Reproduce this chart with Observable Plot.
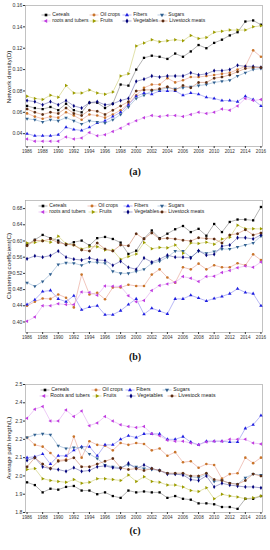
<!DOCTYPE html>
<html><head><meta charset="utf-8">
<script src="https://cdn.jsdelivr.net/npm/d3@7"></script>
<script src="https://cdn.jsdelivr.net/npm/@observablehq/plot@0.6"></script>
<style>
body{margin:0;background:#fff;width:270px;height:550px;overflow:hidden;font-family:"Liberation Sans",Arial,sans-serif}
#root{position:relative;width:270px;height:550px}
.panel{position:absolute;left:0;width:270px}
.panel svg{display:block}
.overlay{position:absolute;left:0;top:0;pointer-events:none}
.cap{position:absolute;left:0;width:270px;text-align:center;font-family:"Liberation Serif","Times New Roman",serif;font-weight:bold;font-size:10px;line-height:12px;color:#111}
</style></head><body><div id="root"></div>
<script>
const years=[1986,1987,1988,1989,1990,1991,1992,1993,1994,1995,1996,1997,1998,1999,2000,2001,2002,2003,2004,2005,2006,2007,2008,2009,2010,2011,2012,2013,2014,2015,2016];
const xTicks=[1986,1988,1990,1992,1994,1996,1998,2000,2002,2004,2006,2008,2010,2012,2014,2016];
const seriesNames=["Cereals","Oil crops","Fibers","Sugars","roots and tubers","Fruits","Vegetables","Livestock meats"];
const seriesNamesC=["Cereals","Oil crops","Fibers","Sugars","Roots and tubers","Fruits","Vegetables","Livestock meats"];

// (a) Network density
const aCereals=[0.066,0.064,0.063,0.065,0.062,0.068,0.062,0.060,0.069,0.069,0.064,0.068,0.086,0.085,0.100,0.111,0.113,0.112,0.110,0.115,0.112,0.117,0.123,0.120,0.125,0.128,0.132,0.135,0.145,0.146,0.142];
const aOil=[0.059,0.056,0.054,0.056,0.055,0.060,0.057,0.053,0.058,0.057,0.055,0.058,0.062,0.068,0.076,0.083,0.086,0.086,0.092,0.088,0.090,0.093,0.093,0.094,0.095,0.096,0.097,0.100,0.103,0.118,0.112];
const aFibers=[0.040,0.038,0.038,0.038,0.039,0.046,0.044,0.043,0.046,0.050,0.052,0.056,0.060,0.067,0.075,0.078,0.077,0.080,0.080,0.080,0.076,0.078,0.077,0.074,0.073,0.071,0.071,0.070,0.075,0.072,0.066];
const aSugars=[0.054,0.053,0.051,0.053,0.052,0.055,0.052,0.049,0.052,0.051,0.050,0.053,0.058,0.065,0.073,0.076,0.080,0.081,0.083,0.082,0.083,0.084,0.085,0.086,0.088,0.089,0.090,0.094,0.097,0.100,0.101];
const aRoots=[0.035,0.033,0.033,0.033,0.033,0.037,0.035,0.036,0.041,0.038,0.039,0.042,0.045,0.049,0.052,0.055,0.057,0.056,0.057,0.057,0.056,0.058,0.060,0.059,0.060,0.063,0.062,0.066,0.073,0.071,0.072];
const aFruits=[0.075,0.073,0.072,0.076,0.074,0.085,0.078,0.078,0.081,0.078,0.077,0.079,0.094,0.096,0.122,0.125,0.128,0.126,0.127,0.128,0.127,0.132,0.129,0.130,0.135,0.136,0.137,0.137,0.137,0.140,0.141];
const aVegetables=[0.071,0.070,0.067,0.070,0.067,0.071,0.066,0.064,0.069,0.070,0.067,0.068,0.071,0.073,0.089,0.091,0.094,0.093,0.094,0.094,0.094,0.097,0.095,0.096,0.099,0.099,0.100,0.104,0.103,0.103,0.102];
const aLivestock=[0.063,0.060,0.058,0.060,0.059,0.064,0.059,0.057,0.062,0.061,0.058,0.062,0.066,0.070,0.080,0.081,0.081,0.082,0.084,0.081,0.085,0.083,0.088,0.088,0.092,0.093,0.095,0.098,0.101,0.102,0.102];

// (b) Clustering coefficient
const bCereals=[0.591,0.603,0.615,0.607,0.601,0.590,0.597,0.601,0.589,0.607,0.610,0.605,0.596,0.568,0.576,0.606,0.626,0.607,0.618,0.629,0.637,0.622,0.630,0.613,0.642,0.622,0.647,0.653,0.653,0.651,0.684];
const bOil=[0.440,0.450,0.458,0.457,0.468,0.460,0.436,0.517,0.468,0.472,0.456,0.485,0.485,0.492,0.489,0.489,0.517,0.530,0.510,0.497,0.535,0.530,0.544,0.530,0.540,0.535,0.535,0.545,0.540,0.567,0.553];
const bFibers=[0.443,0.455,0.475,0.478,0.457,0.450,0.465,0.430,0.437,0.440,0.418,0.418,0.428,0.443,0.457,0.419,0.434,0.427,0.420,0.457,0.457,0.466,0.459,0.452,0.458,0.463,0.470,0.482,0.473,0.470,0.440];
const bSugars=[0.497,0.488,0.500,0.518,0.542,0.546,0.545,0.540,0.548,0.547,0.545,0.525,0.520,0.520,0.525,0.530,0.545,0.550,0.560,0.575,0.575,0.560,0.575,0.570,0.574,0.580,0.580,0.585,0.590,0.595,0.612];
const bRoots=[0.402,0.412,0.440,0.440,0.445,0.443,0.443,0.474,0.473,0.466,0.489,0.488,0.488,0.465,0.450,0.453,0.478,0.490,0.494,0.498,0.512,0.508,0.500,0.512,0.513,0.522,0.527,0.534,0.538,0.535,0.548];
const bFruits=[0.595,0.596,0.601,0.597,0.612,0.593,0.590,0.580,0.586,0.586,0.578,0.577,0.555,0.562,0.568,0.596,0.581,0.584,0.583,0.590,0.570,0.595,0.594,0.597,0.592,0.605,0.609,0.639,0.630,0.630,0.630];
const bVegetables=[0.556,0.563,0.560,0.564,0.575,0.560,0.555,0.553,0.558,0.553,0.552,0.540,0.550,0.535,0.530,0.558,0.548,0.555,0.565,0.560,0.560,0.558,0.576,0.565,0.567,0.587,0.590,0.608,0.608,0.605,0.615];
const bLivestock=[0.588,0.602,0.600,0.605,0.596,0.592,0.590,0.578,0.575,0.595,0.580,0.575,0.590,0.588,0.618,0.605,0.620,0.605,0.607,0.605,0.602,0.600,0.608,0.606,0.605,0.595,0.615,0.618,0.628,0.615,0.620];

// (c) Average path length
const cCereals=[1.965,1.950,1.910,1.930,1.925,1.940,1.945,1.920,1.920,1.900,1.910,1.890,1.880,1.920,1.910,1.915,1.910,1.910,1.880,1.890,1.875,1.870,1.850,1.850,1.845,1.830,1.830,1.820,1.875,1.875,1.890];
const cOil=[2.210,2.170,2.160,2.125,2.085,2.090,2.215,2.100,2.190,2.170,2.165,2.140,2.180,2.170,2.180,2.175,2.140,2.150,2.110,2.130,2.075,2.080,2.045,2.065,2.060,1.985,2.010,2.015,2.100,2.070,2.100];
const cFibers=[2.100,2.105,2.120,2.065,2.110,2.110,2.140,2.160,2.160,2.110,2.170,2.170,2.200,2.220,2.210,2.230,2.230,2.230,2.200,2.200,2.215,2.185,2.170,2.190,2.190,2.190,2.185,2.185,2.260,2.280,2.330];
const cSugars=[2.210,2.225,2.230,2.225,2.165,2.150,2.155,2.155,2.120,2.095,2.060,2.050,2.045,2.060,2.050,2.040,2.035,2.030,2.015,2.010,2.010,1.995,1.990,2.010,1.970,1.975,1.960,1.955,1.990,2.010,2.005];
const cRoots=[2.315,2.365,2.380,2.300,2.300,2.360,2.325,2.355,2.275,2.290,2.325,2.300,2.280,2.270,2.265,2.270,2.230,2.220,2.195,2.190,2.190,2.180,2.170,2.185,2.190,2.190,2.200,2.200,2.200,2.180,2.175];
const cFruits=[2.035,2.040,1.985,1.975,1.970,1.965,1.980,1.960,1.965,1.985,1.985,1.980,1.975,2.005,1.970,1.995,1.970,1.965,1.950,1.950,1.940,1.920,1.915,1.935,1.875,1.900,1.890,1.885,1.875,1.880,1.890];
const cVegetables=[2.085,2.100,2.050,2.040,2.035,2.025,2.045,2.025,2.030,2.050,2.055,2.045,2.040,2.070,2.040,2.060,2.040,2.030,2.010,2.010,2.005,1.980,1.975,2.000,1.940,1.960,1.950,1.945,1.940,1.940,1.935];
const cLivestock=[2.050,2.100,2.065,2.040,2.080,2.085,2.100,2.050,2.050,2.065,2.080,2.095,2.045,2.035,2.040,2.030,2.040,2.030,2.015,2.015,2.015,2.000,2.000,2.015,1.980,1.975,1.960,1.955,1.975,2.010,2.000];

const aTicks=[0.04,0.06,0.08,0.10,0.12,0.14,0.16];
const bTicks=[0.40,0.44,0.48,0.52,0.56,0.60,0.64,0.68];
const cTicks=[1.8,1.9,2.0,2.1,2.2,2.3,2.4,2.5];

const markerColors=["#000000","#c8742a","#1f1fe0","#2f5f8f","#c03ce0","#9c9c00","#00007a","#5a2c12"];
const lineColors=["#808080","#e8a090","#8888f0","#90b0d0","#e0a8f0","#cccc70","#6868b0","#d08868"];
const symbols=["square","circle","triangle","triangle","triangle","triangle","diamond","hexagon"];
const d3symbols=[d3.symbolSquare,d3.symbolCircle,d3.symbolTriangle,d3.symbolTriangle,d3.symbolTriangle,d3.symbolTriangle,d3.symbolDiamond,d3.symbolCircle];
const rotations=[0,0,0,180,-90,90,0,0];

const root=document.getElementById("root");

function makePanel(cfg){
  const wrap=document.createElement("div");
  wrap.className="panel";
  wrap.style.top=cfg.top+"px";
  wrap.style.height=cfg.height+"px";
  const rows=[];
  cfg.series.forEach((vals,i)=>vals.forEach((v,j)=>rows.push({year:years[j],v,i})));
  const marks=[Plot.frame({stroke:"#a8a8a8",strokeWidth:0.7})];
  cfg.series.forEach((vals,i)=>{
    marks.push(Plot.line(rows.filter(r=>r.i===i),{x:"year",y:"v",stroke:lineColors[i],strokeWidth:0.6}));
  });
  cfg.series.forEach((vals,i)=>{
    marks.push(Plot.dot(rows.filter(r=>r.i===i),{x:"year",y:"v",symbol:symbols[i],fill:markerColors[i],stroke:"none",r:1.3,rotate:rotations[i]}));
  });
  marks.push(Plot.axisX({ticks:xTicks,tickFormat:d=>String(d),tickSize:2,tickPadding:1,fontSize:4.6,label:null}));
  marks.push(Plot.axisY({ticks:cfg.yTicks,tickFormat:cfg.fmt,tickSize:2,tickPadding:1,fontSize:5.2,label:null}));
  const chart=Plot.plot({
    width:270,height:cfg.height,
    marginLeft:25,marginRight:8,marginTop:cfg.mt,marginBottom:cfg.mb,
    x:{domain:[1985.8,2016.2]},
    y:{domain:cfg.yDomain},
    style:{fontFamily:"'Liberation Sans', Arial, sans-serif",color:"#333",background:"transparent"},
    marks
  });
  wrap.appendChild(chart);
  const ov=d3.select(wrap).append("svg").attr("class","overlay").attr("width",270).attr("height",cfg.height)
    .style("font-family","'Liberation Sans', Arial, sans-serif");
  ov.append("text").attr("transform",`translate(9,${cfg.labelY}) rotate(-90)`)
    .attr("text-anchor","middle").attr("dominant-baseline","middle")
    .attr("font-size",6.2).attr("fill","#222").text(cfg.ylabel);
  cfg.names.forEach((name,i)=>{
    const row=i<4?0:1, col=i%4;
    const mx=cfg.legX[row][col], my=cfg.legY[row];
    const g=ov.append("g");
    g.append("line").attr("x1",mx-4.5).attr("x2",mx+4.5).attr("y1",my).attr("y2",my).attr("stroke",lineColors[i]).attr("stroke-width",0.6);
    g.append("path").attr("d",d3.symbol(d3symbols[i],7)()).attr("fill",markerColors[i])
      .attr("transform",`translate(${mx},${my}) rotate(${rotations[i]})`);
    g.append("text").attr("x",mx+6.3).attr("y",my).attr("dominant-baseline","middle")
      .attr("font-size",cfg.legFont).attr("fill","#222").text(name);
  });
  root.appendChild(wrap);
}
function caption(text,top){
  const d=document.createElement("div");d.className="cap";d.style.top=top+"px";d.textContent=text;root.appendChild(d);
}
const allA=[aCereals,aOil,aFibers,aSugars,aRoots,aFruits,aVegetables,aLivestock];
const allB=[bCereals,bOil,bFibers,bSugars,bRoots,bFruits,bVegetables,bLivestock];
const allC=[cCereals,cOil,cFibers,cSugars,cRoots,cFruits,cVegetables,cLivestock];

makePanel({top:0,height:160,mt:5,mb:14,yDomain:[0.028,0.16],yTicks:aTicks,fmt:d3.format(".2f"),
  ylabel:"Network density(D)",labelY:77,series:allA,names:seriesNames,
  legX:[[46,94,127,162],[46,94,127,163]],legY:[15,21],legFont:5});
caption("(a)",166);
makePanel({top:195,height:150,mt:5,mb:13,yDomain:[0.374,0.70],yTicks:bTicks,fmt:d3.format(".2f"),
  ylabel:"Clustering coefficient(C)",labelY:71,series:allB,names:seriesNames,
  legX:[[43,92,128,162],[43,93,128,162]],legY:[11,17],legFont:5});
caption("(b)",351);
makePanel({top:378,height:145,mt:6,mb:11,yDomain:[1.8,2.5],yTicks:cTicks,fmt:d3.format(".1f"),
  ylabel:"Average path length(L)",labelY:70,series:allC,names:seriesNamesC,
  legX:[[45,96,130,167],[44,97,131,172]],legY:[12,18],legFont:5.2});
caption("(c)",525);
</script></body></html>
